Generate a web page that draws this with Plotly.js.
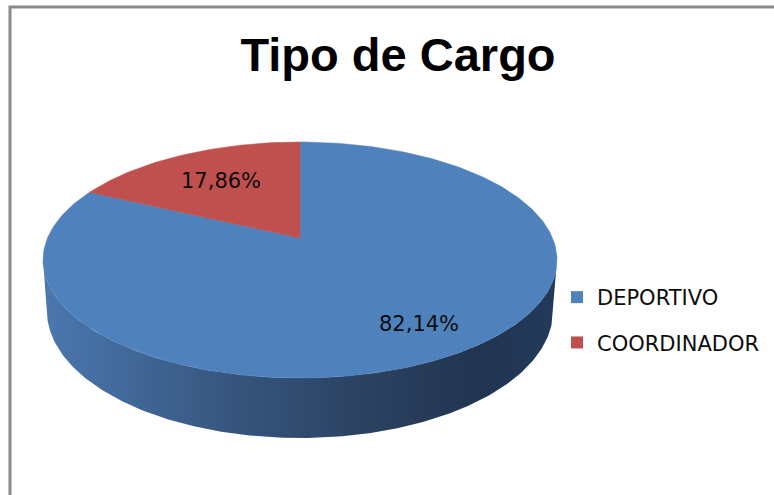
<!DOCTYPE html>
<html><head><meta charset="utf-8">
<script src="https://cdn.plot.ly/plotly-3.0.1.min.js"></script>
<style>html,body{margin:0;padding:0;background:#fff}#chart{width:774px;height:495px}</style>
</head><body><div id="chart"></div>
<script>
// ---- data ----
const categories = ['DEPORTIVO', 'COORDINADOR'];
const counts = [23, 5];
const sliceColors = ['#4f81bd', '#c0504d'];
const titleText = 'Tipo de Cargo';

// ---- geometry of the tilted (perspective) pie, in page pixels ----
const CX = 300, CY = 238, A = 252.5, B = 113.9, K = 0.1864, H = 48.8, SHRINK = 0.985;
const labelRadius = [0.78, 0.65];
function proj(theta, r, bottom) {
  const u = r * Math.cos(theta), v = r * Math.sin(theta);
  const d = 1 + K * v;
  const s = bottom ? SHRINK : 1;
  return [CX + A * u / d * s, CY - B * v / d + (bottom ? H / d : 0)];
}
const total = counts.reduce((a, b) => a + b, 0);
const traces = [];

// side wall (front half)
(function () {
  const al = Math.asin(K);
  const t0 = Math.PI + al, t1 = 2 * Math.PI - al, N = 200;
  const xs = [], ys = [];
  for (let i = 0; i <= N; i++) { const p = proj(t0 + (t1 - t0) * i / N, 1, false); xs.push(p[0]); ys.push(p[1]); }
  for (let i = N; i >= 0; i--) { const p = proj(t0 + (t1 - t0) * i / N, 1, true); xs.push(p[0]); ys.push(p[1]); }
  traces.push({
    type: 'scatter', x: xs, y: ys, mode: 'lines', fill: 'toself',
    line: { width: 0, color: 'rgba(0,0,0,0)' },
    fillgradient: { type: 'horizontal', colorscale: [[0, '#4b78b0'], [0.35, '#37577f'], [0.65, '#2a405f'], [0.85, '#213551'], [1, '#233a5b']] },
    hoverinfo: 'skip', showlegend: false
  });
})();

// top slices, first slice starts at 12 o'clock, going clockwise
const annotations = [];
let start = Math.PI / 2;
counts.forEach((c, i) => {
  const sweep = 2 * Math.PI * c / total;
  const end = start - sweep;
  const xs = [CX], ys = [CY];
  const N = Math.max(20, Math.round(300 * c / total));
  for (let j = 0; j <= N; j++) { const p = proj(start + (end - start) * j / N, 1, false); xs.push(p[0]); ys.push(p[1]); }
  xs.push(CX); ys.push(CY);
  traces.push({
    type: 'scatter', x: xs, y: ys, mode: 'lines', fill: 'toself',
    fillcolor: sliceColors[i], line: { width: 0.5, color: sliceColors[i] },
    hoverinfo: 'skip', showlegend: false
  });
  const mid = (start + end) / 2;
  const lp = proj(mid, labelRadius[i], false);
  annotations.push({
    x: lp[0], y: lp[1], xref: 'x', yref: 'y', showarrow: false,
    text: (100 * c / total).toFixed(2).replace('.', ',') + '%',
    font: { family: 'DejaVu Sans', size: 21, color: '#0d0d0d' }
  });
  start = end;
});

// legend entries
categories.forEach((name, i) => {
  traces.push({
    type: 'scatter', x: [null], y: [null], mode: 'markers', name: name,
    legendgroup: 'g' + i,
    marker: { symbol: 'square', size: 12, color: sliceColors[i] },
    hoverinfo: 'skip'
  });
});

const layout = {
  width: 774, height: 495,
  margin: { l: 0, r: 0, t: 0, b: 0 },
  paper_bgcolor: '#fff', plot_bgcolor: '#fff',
  xaxis: { range: [0, 774], visible: false, fixedrange: true },
  yaxis: { range: [495, 0], visible: false, fixedrange: true },
  title: {
    text: titleText, x: 398 / 774, xanchor: 'center', xref: 'paper',
    y: 1 - 55 / 495, yanchor: 'middle', yref: 'container',
    font: { family: 'Liberation Sans', size: 47, color: '#000', weight: 'bold' }
  },
  showlegend: true,
  legend: {
    x: 557 / 774, y: 1 - 277 / 495, xanchor: 'left', yanchor: 'top',
    traceorder: 'grouped', tracegroupgap: 15,
    bgcolor: 'rgba(0,0,0,0)',
    font: { family: 'DejaVu Sans', size: 21, color: '#0d0d0d' }
  },
  annotations: annotations,
  shapes: [{
    type: 'rect', xref: 'x', yref: 'y', x0: 10, x1: 800, y0: 7, y1: 520,
    line: { color: '#8a8a8a', width: 3 }, layer: 'above'
  }]
};

Plotly.newPlot('chart', traces, layout, { staticPlot: true, displayModeBar: false });
</script>
</body></html>
